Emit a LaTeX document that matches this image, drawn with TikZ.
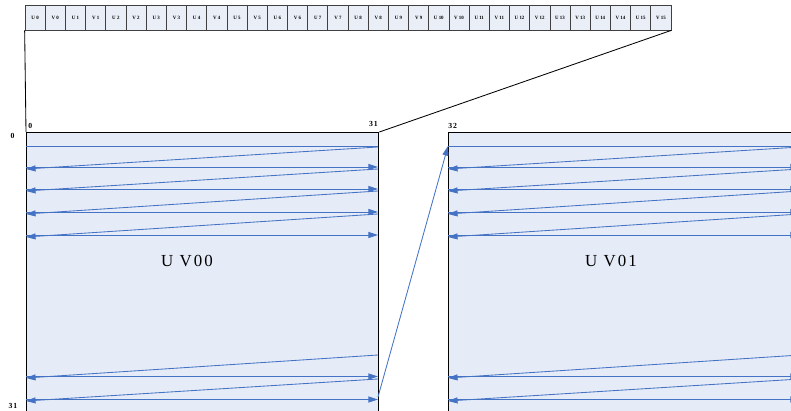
\documentclass[tikz,border=0pt]{standalone}
\usepackage{fontspec}
\setmainfont{Liberation Serif}
\newfontfamily\spaced[LetterSpace=12]{Liberation Serif}
\usetikzlibrary{arrows.meta}
\definecolor{scan}{HTML}{4472C4}
\definecolor{blockfill}{HTML}{E6ECF7}
\definecolor{cellfill}{HTML}{E9EEF7}

\begin{document}
\begin{tikzpicture}[x=0.025cm, y=-0.025cm,
  cell/.style={draw=black!75, line width=0.5pt, fill=cellfill, minimum width=0.5047cm,
    minimum height=0.625cm, inner sep=0pt, font=\fontsize{3.5}{4}\selectfont\bfseries},
  block/.style={draw=black, line width=0.9pt, fill=blockfill, anchor=north west,
    minimum width=8.8cm, minimum height=7.2cm, inner sep=0pt},
  idx/.style={inner sep=0pt, font=\fontsize{5.5}{6}\selectfont\spaced\bfseries},
  title/.style={inner sep=0pt, font=\fontsize{12}{14}\selectfont\spaced},
  zoomline/.style={draw=black, line width=0.6pt},
  scanline/.style={draw=scan, line width=0.6pt},
  scanarrow/.style={scanline, -{Triangle[length=2.4mm,width=1.5mm]}}
]
\path[use as bounding box, clip] (0,0) rectangle (791,411);

% Row 0 as a strip of samples
\foreach \i in {0,...,15} {
  \node[cell] (u\i) at ({25+(2*\i+0.5)*20.1875}, 17.5) {U \i};
  \node[cell] (v\i) at ({25+(2*\i+1.5)*20.1875}, 17.5) {V \i};
}

% Blocks
\node[block] (uv00) at (26,132) {};
\node[block] (uv01) at (448,132) {};
\node[title] at (187,261) {U V00};
\node[title] at (611,261) {U V01};

% Zoom lines
\draw[zoomline] (u0.south west) -- (uv00.north west);
\draw[zoomline] (v15.south east) -- (uv00.north east);

% Indices
\node[idx, anchor=west] at (28,126) {0};
\node[idx, anchor=east] at (378,124) {31};
\node[idx, anchor=west] at (448,126) {32};
\node[idx, anchor=east] at (800,124) {63};
\node[idx] at (12.5,136) {0};
\node[idx] at (13,406) {31};

% Scan order
\foreach \xl in {26,448} {
  \pgfmathsetmacro\xr{\xl+352}
  \draw[scanline] (\xl,146) -- (\xr,146);
  \foreach \y/\p in {168/146,190/168,213/190,236/213} {
    \draw[scanarrow] (\xr,{\p+1}) -- (\xl,{\y+1});
    \draw[scanarrow] (\xl,{\y-1}) -- (\xr,{\y-1});
  }
  \foreach \y/\p in {378/355,401/379} {
    \draw[scanarrow] (\xr,\p) -- (\xl,\y);
    \draw[scanarrow] (\xl,{\y-1.5}) -- (\xr,{\y-1.5});
  }
}

% Next block
\coordinate (rowend) at (378,397);
\coordinate (rowstart) at (448,146);
\draw[scanarrow] (rowend) -- (rowstart);

\end{tikzpicture}
\end{document}
